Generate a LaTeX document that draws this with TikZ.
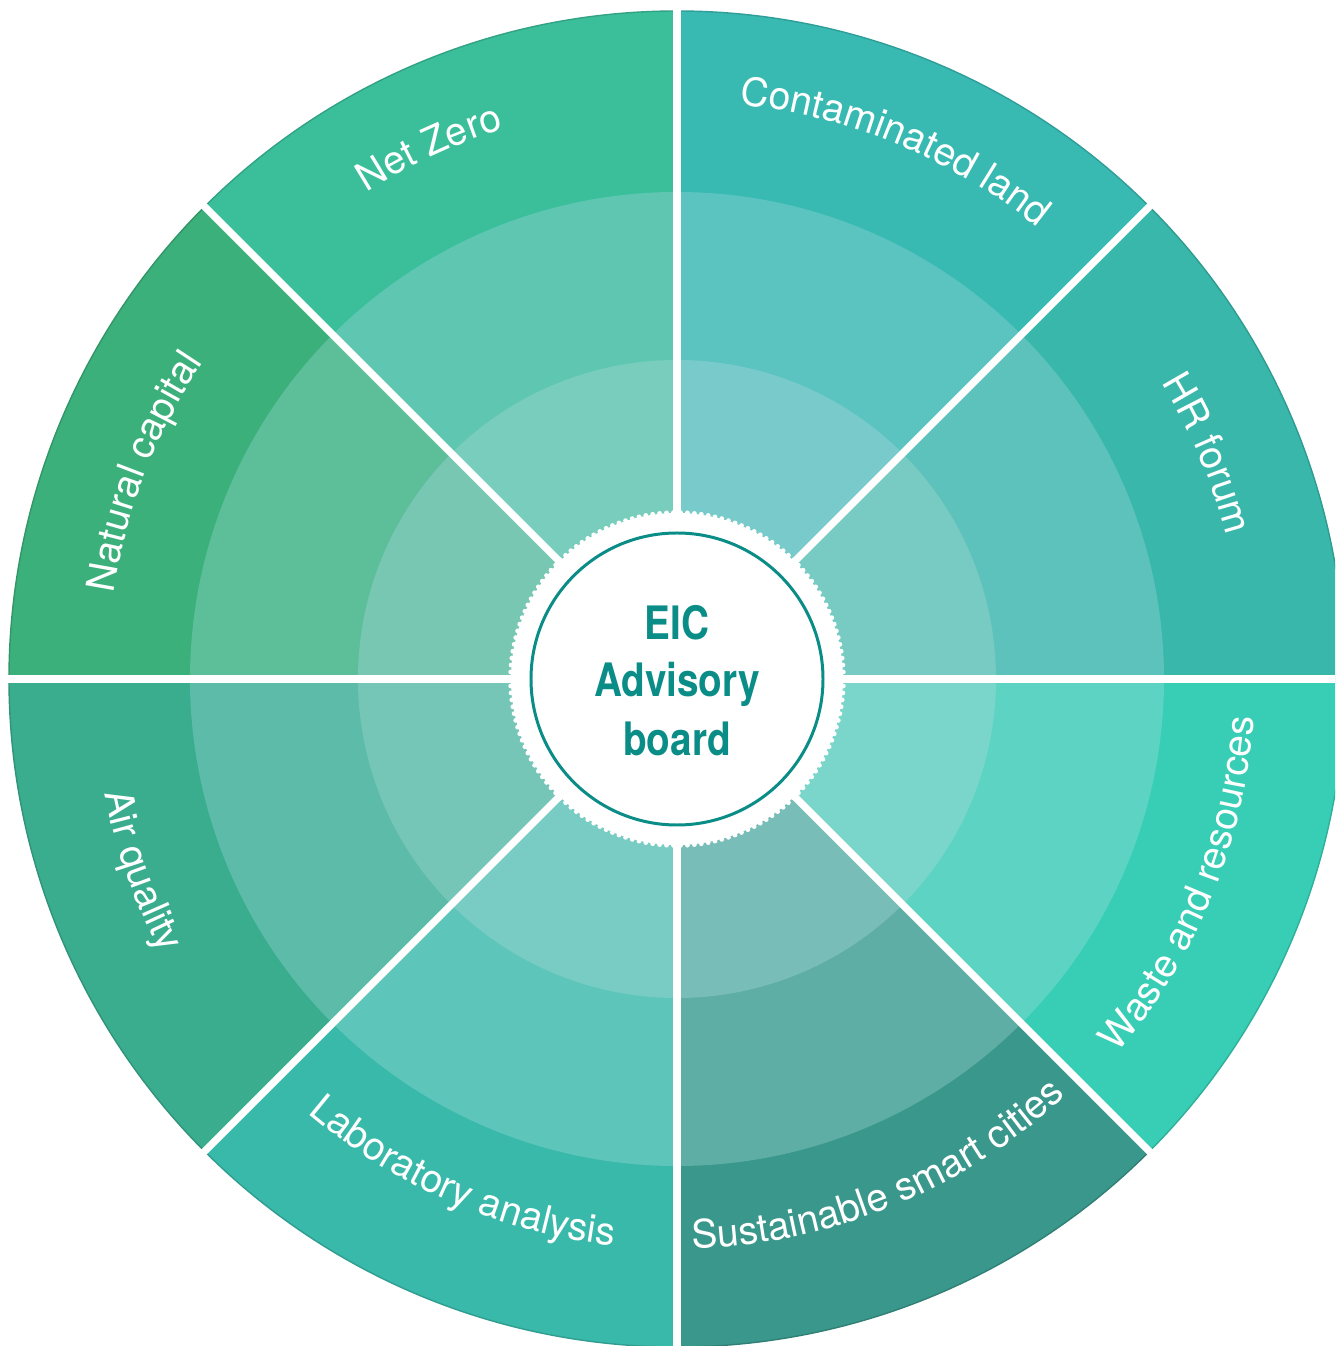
\documentclass[tikz,border=0pt]{standalone}
\usepackage{fontspec}
\usetikzlibrary{decorations.text}
\newfontfamily\lblfont{TeX Gyre Heros}
\newfontfamily\ctrfont[FakeStretch=0.84]{TeX Gyre Heros}
\newcommand\lbl{\lblfont\fontsize{11.1}{13}\selectfont}
\newcommand\ctrtxt{\ctrfont\bfseries\fontsize{13.1}{16}\selectfont}
\definecolor{hrO}{HTML}{39B7AA}\definecolor{hrM}{HTML}{5DC2BB}\definecolor{hrI}{HTML}{77CBC3}
\definecolor{clO}{HTML}{38BAB3}\definecolor{clM}{HTML}{5CC4C0}\definecolor{clI}{HTML}{78CBCA}
\definecolor{nzO}{HTML}{3BBF9B}\definecolor{nzM}{HTML}{5FC7B1}\definecolor{nzI}{HTML}{79CDBC}
\definecolor{ncO}{HTML}{3BB07B}\definecolor{ncM}{HTML}{5DBF99}\definecolor{ncI}{HTML}{77C7B2}
\definecolor{aqO}{HTML}{3AAD8F}\definecolor{aqM}{HTML}{5DBCA9}\definecolor{aqI}{HTML}{76C6B8}
\definecolor{laO}{HTML}{38B9AA}\definecolor{laM}{HTML}{5DC5BA}\definecolor{laI}{HTML}{79CCC4}
\definecolor{ssO}{HTML}{3A978B}\definecolor{ssM}{HTML}{5FAEA6}\definecolor{ssI}{HTML}{78BDB7}
\definecolor{wrO}{HTML}{38CEB5}\definecolor{wrM}{HTML}{5DD4C3}\definecolor{wrI}{HTML}{7AD6CA}
\definecolor{eic}{HTML}{0A8C87}
\tikzset{
  arclabel/.style={decorate, decoration={text along path, text align=center, text color=white, text={|\lbl|#1}}},
  sep/.style={white, line width=2.1pt},
}
\begin{document}
\begin{tikzpicture}[x=0.01cm,y=0.01cm]
\useasboundingbox (-677,-667) rectangle (658,679);
\clip (-677,-667) rectangle (658,679);
% sectors
\foreach \a/\co/\cm/\ci in {0/hrO/hrM/hrI,45/clO/clM/clI,90/nzO/nzM/nzI,135/ncO/ncM/ncI,180/aqO/aqM/aqI,225/laO/laM/laI,270/ssO/ssM/ssI,315/wrO/wrM/wrI}{
  \fill[\co] (0,0) -- (\a:668) arc[start angle=\a, end angle=\a+45, radius=668] -- cycle;
  \draw[\co!85!black, line width=0.4pt] (\a:668) arc[start angle=\a, end angle=\a+45, radius=668];
  \fill[\cm] (0,0) -- (\a:487) arc[start angle=\a, end angle=\a+45, radius=487] -- cycle;
  \fill[\ci] (0,0) -- (\a:319) arc[start angle=\a, end angle=\a+45, radius=319] -- cycle;
}
% separators
\foreach \a in {0,45,...,315}{\draw[sep] (0,0) -- (\a:720);}
% gear ring
\fill[white] (0,0) circle[radius=166];
\foreach \i in {0,...,149}{\fill[white] (\i*2.4:166.5) circle[radius=2.4];}
\draw[eic, line width=0.85pt] (0,0) circle[radius=146];
\node[font=\ctrtxt, text=eic, anchor=base, inner sep=0] (eic1) at (0,39) {EIC};
\node[font=\ctrtxt, text=eic, anchor=base, inner sep=0] (eic2) at (0,-18) {Advisory};
\node[font=\ctrtxt, text=eic, anchor=base, inner sep=0] (eic3) at (0,-77) {board};
% labels, top half (clockwise)
\path[arclabel={Net Zero}] (145:577) arc[start angle=145, end angle=85, radius=577];
\path[arclabel={Contaminated land}] (97.6:578) arc[start angle=97.6, end angle=37.6, radius=578];
\path[arclabel={HR forum}] (53:568) arc[start angle=53, end angle=-7, radius=568];
\path[arclabel={Natural capital}] (188.8:570) arc[start angle=188.8, end angle=128.8, radius=570];
% labels, bottom half (counter-clockwise)
\path[arclabel={Air quality}] (169.7:584) arc[start angle=169.7, end angle=229.7, radius=584];
\path[arclabel={Laboratory analysis}] (216.6:570) arc[start angle=216.6, end angle=276.6, radius=570];
\path[arclabel={Sustainable smart cities}] (262.3:570) arc[start angle=262.3, end angle=322.3, radius=570];
\path[arclabel={Waste and resources}] (307.9:578) arc[start angle=307.9, end angle=367.9, radius=578];
\end{tikzpicture}
\end{document}
